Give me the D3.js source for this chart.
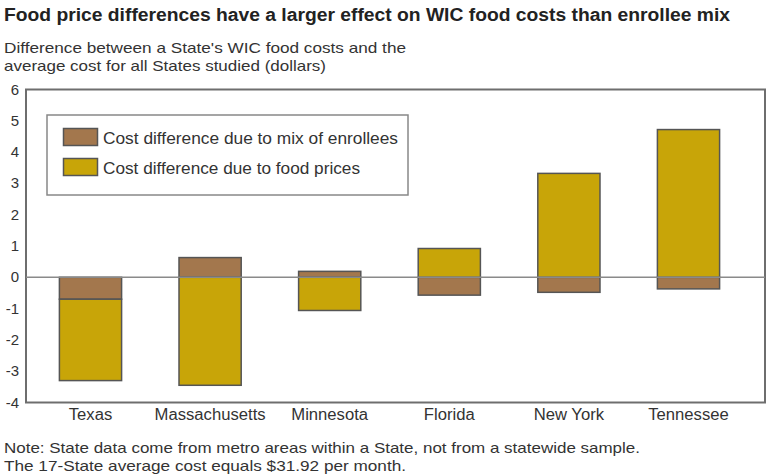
<!DOCTYPE html>
<html><head><meta charset="utf-8">
<script src="https://cdn.jsdelivr.net/npm/d3@7"></script>
<style>body{margin:0;background:#fff;} svg{display:block;font-family:"Liberation Sans",Arial,sans-serif;}</style>
</head><body>
<script>
const states = ["Texas","Massachusetts","Minnesota","Florida","New York","Tennessee"];
const mixValues = [-0.70, 0.63, 0.19, -0.57, -0.48, -0.37];
const foodValues = [-2.60, -3.45, -1.06, 0.92, 3.32, 4.72];
const yTicks = [6,5,4,3,2,1,0,-1,-2,-3,-4];
const seriesNames = ["Cost difference due to mix of enrollees","Cost difference due to food prices"];
const colors = ["#a3774d","#c8a508"];

const W=768,H=476;
const svg=d3.select("body").append("svg").attr("width",W).attr("height",H);

const y=d3.scaleLinear().domain([-4,6]).range([402.5,89.5]);
const x=d3.scaleBand().domain(states).range([30.7,748.3]).paddingInner(0.48).paddingOuter(0.24);

// title & subtitle
svg.append("text").attr("x",4).attr("y",21).attr("font-size",17.5).attr("font-weight","bold").attr("fill","#222")
  .attr("textLength",726).attr("lengthAdjust","spacingAndGlyphs")
  .text("Food price differences have a larger effect on WIC food costs than enrollee mix");
svg.append("text").attr("x",4).attr("y",53).attr("font-size",14.5).attr("fill","#333")
  .attr("textLength",402).attr("lengthAdjust","spacingAndGlyphs")
  .text("Difference between a State's WIC food costs and the");
svg.append("text").attr("x",4).attr("y",71).attr("font-size",14.5).attr("fill","#333")
  .attr("textLength",322).attr("lengthAdjust","spacingAndGlyphs")
  .text("average cost for all States studied (dollars)");

// frame
svg.append("rect").attr("x",26).attr("y",y(6)).attr("width",739).attr("height",y(-4)-y(6))
  .attr("fill","none").attr("stroke","#6e6e6e").attr("stroke-width",2);

// y tick labels
svg.append("g").selectAll("text").data(yTicks).join("text")
  .attr("x",19).attr("y",d=>y(d)+5).attr("text-anchor","end").attr("font-size",15).attr("fill","#333")
  .text(d=>d);

// stacked (diverging) bars
const rows=states.map((s,i)=>{
  const m=mixValues[i], f=foodValues[i];
  let pos=0,neg=0; const segs=[];
  [[m,0],[f,1]].forEach(([v,k])=>{
    if(v>=0){segs.push({s,k,y0:pos,y1:pos+v});pos+=v;}
    else{segs.push({s,k,y0:neg,y1:neg+v});neg+=v;}
  });
  return segs;
}).flat();

svg.append("g").selectAll("rect").data(rows).join("rect")
  .attr("x",d=>x(d.s)).attr("width",x.bandwidth())
  .attr("y",d=>y(Math.max(d.y0,d.y1))).attr("height",d=>Math.abs(y(d.y0)-y(d.y1)))
  .attr("fill",d=>colors[d.k]).attr("stroke","#555").attr("stroke-width",1.5);

// zero line
svg.append("line").attr("x1",26).attr("x2",765).attr("y1",y(0)).attr("y2",y(0))
  .attr("stroke","#8a8a8a").attr("stroke-width",1.5);

// x labels
svg.append("g").selectAll("text").data(states).join("text")
  .attr("x",d=>x(d)+x.bandwidth()/2).attr("y",420).attr("text-anchor","middle").attr("font-size",16).attr("fill","#333")
  .text(d=>d)
  .each(function(){const w=this.getComputedTextLength();d3.select(this).attr("textLength",w*1.04).attr("lengthAdjust","spacingAndGlyphs");});

// legend
const legendWidths=[295,257];
const lg=svg.append("g");
lg.append("rect").attr("x",47).attr("y",115).attr("width",361).attr("height",80).attr("fill","#fff")
  .attr("stroke","#888").attr("stroke-width",1.5);
seriesNames.forEach((n,i)=>{
  lg.append("rect").attr("x",63.5).attr("y",128.5+i*30).attr("width",34).attr("height",17)
    .attr("fill",colors[i]).attr("stroke","#555").attr("stroke-width",1.5);
  lg.append("text").attr("x",103).attr("y",143.5+i*30).attr("font-size",16).attr("fill","#333")
    .attr("textLength",legendWidths[i]).attr("lengthAdjust","spacingAndGlyphs")
    .text(n);
});

// notes
svg.append("text").attr("x",4).attr("y",453).attr("font-size",14.5).attr("fill","#333")
  .attr("textLength",636).attr("lengthAdjust","spacingAndGlyphs")
  .text("Note: State data come from metro areas within a State, not from a statewide sample.");
svg.append("text").attr("x",4).attr("y",471).attr("font-size",14.5).attr("fill","#333")
  .attr("textLength",402).attr("lengthAdjust","spacingAndGlyphs")
  .text("The 17-State average cost equals $31.92 per month.");
</script>
</body></html>
